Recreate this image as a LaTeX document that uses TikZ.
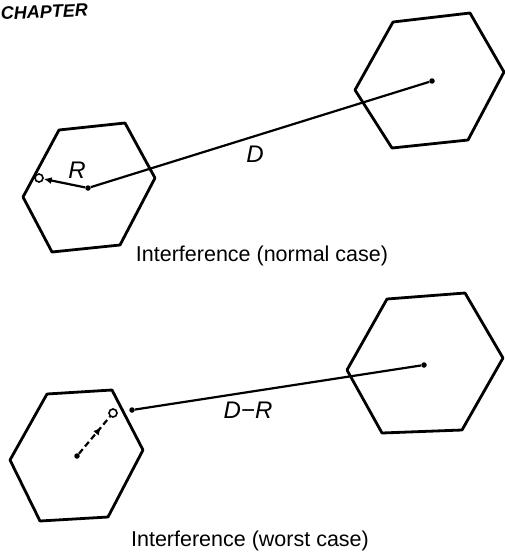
\documentclass[tikz,border=0pt]{standalone}
\usepackage{fontspec}
\setmainfont{Liberation Sans}
\usetikzlibrary{arrows.meta, decorations.markings}

\begin{document}
\begin{tikzpicture}[
    x = 1pt, y = -1pt,
    >=Latex,
    cell/.style={
      line width = 2.8pt,
      line join = round,
    },
    link/.style={
      line width = 2.2pt,
    },
    centre dot/.style={
      circle, fill, inner sep = 0pt, minimum size = 5.5pt,
    },
    mobile/.style={
      circle, draw, line width = 1.6pt, inner sep = 0pt, minimum size = 8pt,
    },
    label text/.style={
      inner sep = 0pt,
      font = \fontsize{24}{28}\selectfont\itshape,
    },
    caption/.style={
      inner sep = 0pt,
      font = \fontsize{21.5}{26}\selectfont,
    },
    mid arrow/.style={
      postaction = {decorate},
      decoration = {markings,
        mark = at position 0.72 with {\arrow{Latex[length=8pt, width=7pt]}}},
    },
  ]
  \useasboundingbox (0,0) rectangle (504,557);

  \node[anchor = base west, inner sep = 0pt, rotate = 2.5,
    font = \fontsize{18}{22}\selectfont\bfseries\itshape] (chapter)
    at (1,20) {CHAPTER};

  % normal case
  \draw[cell] (59,130) -- (125,123) -- (155,178) -- (120,245)
    -- (52,252) -- (23,197) -- cycle;
  \draw[cell] (393,22) -- (470,13) -- (504,72) -- (468,140)
    -- (392,148) -- (355,90) -- cycle;
  \node[centre dot] (c1) at (88,188) {};
  \node[centre dot] (c2) at (432,81) {};
  \node[mobile] (m1) at (39,178) {};
  \draw[link, -{Latex[length=8pt, width=7pt]}] (c1) -- (m1);
  \draw[link] (c1) -- (c2);
  \node[label text] (r-label) at (77,170) {R};
  \node[label text] (d-label) at (255,154) {D};
  \node[caption] (normal) at (262,256) {Interference (normal case)};

  % worst case
  \draw[cell] (47,394) -- (112,390) -- (143,450) -- (108,517)
    -- (40,521) -- (10,460) -- cycle;
  \draw[cell] (387,299) -- (465,293) -- (503,358) -- (462,430)
    -- (382,433) -- (347,370) -- cycle;
  \node[centre dot] (c3) at (77,456) {};
  \node[centre dot] (c4) at (424,365) {};
  \node[mobile] (m3) at (113,413) {};
  \node[centre dot] (q3) at (132,410) {};
  \draw[link, dash pattern = on 6pt off 3.5pt, mid arrow] (c3) -- (m3);
  \draw[link] (q3) -- (c4);
  \node[label text] (dr-label) at (248,410) {D−R};
  \node[caption] (worst) at (250,541) {Interference (worst case)};
\end{tikzpicture}
\end{document}
